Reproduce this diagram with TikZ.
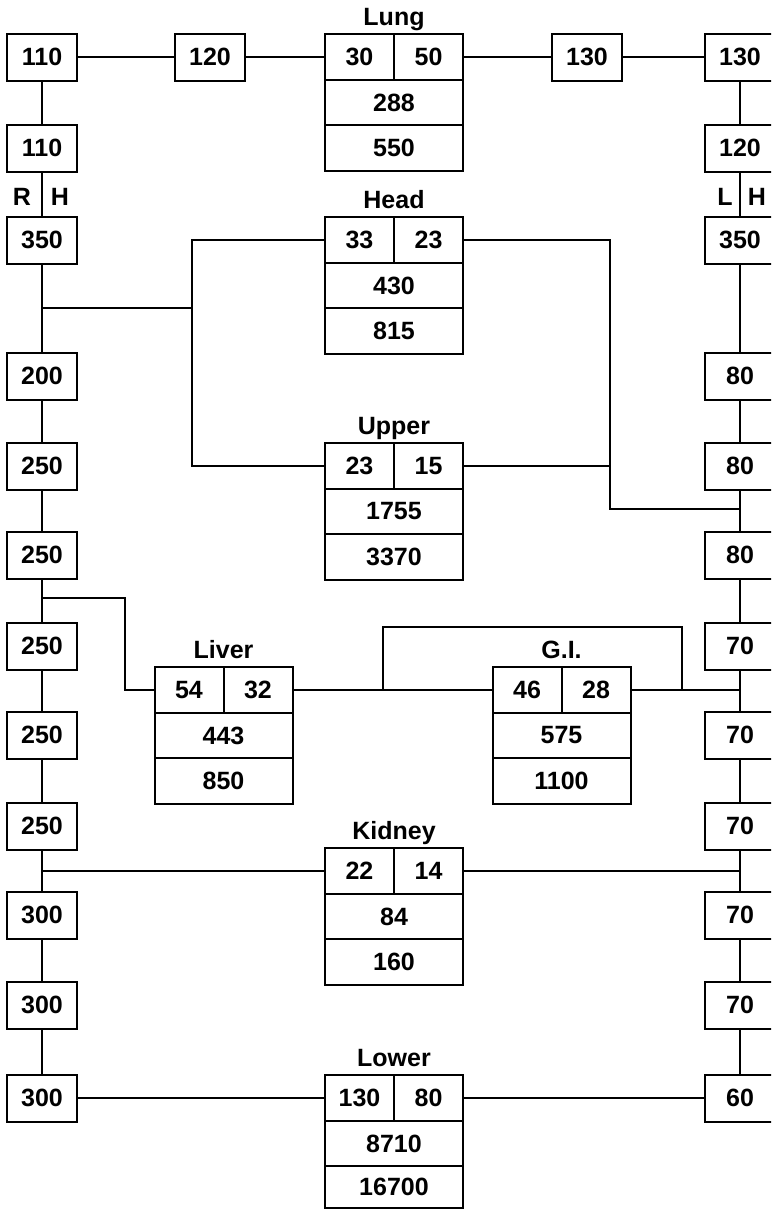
\documentclass[tikz,border=0pt]{standalone}
\usepackage{fontspec}
\setmainfont{Liberation Sans}
\begin{document}
\begin{tikzpicture}[x=1pt,y=-1pt,
  every node/.style={font=\fontsize{25}{29}\selectfont\bfseries},
  sbox/.style={draw,line width=2pt,minimum width=70pt,minimum height=47pt,inner sep=0pt},
  cell/.style={draw,line width=2pt,minimum height=45.5pt,inner sep=0pt},
  lab/.style={inner sep=0pt},
  wire/.style={line width=2pt}]
\useasboundingbox (0,0) rectangle (771,1210);
\clip (0,0) rectangle (771,1210);
\newcommand\organ[9]{%
  \node[cell,minimum width=69pt] (#1-l) at (#3-34.5,#4) {#5};
  \node[cell,minimum width=69pt] (#1-r) at (#3+34.5,#4) {#6};
  \node[cell,minimum width=138pt] (#1-m) at (#3,#4+45.5) {#7};
  \node[cell,minimum width=138pt,minimum height=#9pt] (#1-b) at (#3,#4+45.5+22.75+#9/2) {#8};
  \node[lab,anchor=base] (#1-t) at (#3,#4-31.5) {#2};}
% left column
\node[sbox] (L1) at (42,57) {110};
\node[sbox] (L2) at (42,148) {110};
\node[sbox] (L3) at (42,240) {350};
\node[sbox] (L4) at (42,376) {200};
\node[sbox] (L5) at (42,466) {250};
\node[sbox] (L6) at (42,555) {250};
\node[sbox] (L7) at (42,646) {250};
\node[sbox] (L8) at (42,735) {250};
\node[sbox] (L9) at (42,826) {250};
\node[sbox] (L10) at (42,915) {300};
\node[sbox] (L11) at (42,1005) {300};
\node[sbox] (L12) at (42,1098) {300};
% right column
\node[sbox] (R1) at (740,57) {130};
\node[sbox] (R2) at (740,148) {120};
\node[sbox] (R3) at (740,240) {350};
\node[sbox] (R4) at (740,376) {80};
\node[sbox] (R5) at (740,466) {80};
\node[sbox] (R6) at (740,555) {80};
\node[sbox] (R7) at (740,646) {70};
\node[sbox] (R8) at (740,735) {70};
\node[sbox] (R9) at (740,826) {70};
\node[sbox] (R10) at (740,915) {70};
\node[sbox] (R11) at (740,1005) {70};
\node[sbox] (R12) at (740,1098) {60};
% top row
\node[sbox] (T2) at (210,57) {120};
\node[sbox] (T4) at (587,57) {130};
% organs (argument 4 = centre y of the top row, 9 = height of last row)
\organ{lung}{Lung}{394}{57}{30}{50}{288}{550}{45.5}
\organ{head}{Head}{394}{240}{33}{23}{430}{815}{45.5}
\organ{upper}{Upper}{394}{466}{23}{15}{1755}{3370}{45.5}
\organ{liver}{Liver}{223.5}{690}{54}{32}{443}{850}{45.5}
\organ{gi}{G.I.}{561.5}{690}{46}{28}{575}{1100}{45.5}
\organ{kid}{Kidney}{394}{871}{22}{14}{84}{160}{45.5}
\organ{low}{Lower}{394}{1098}{130}{80}{8710}{16700}{42}
% R H / L H labels
\node[lab] (rR) at (22,197) {R};
\node[lab] (rH) at (60,197) {H};
\node[lab] (lL) at (725,197) {L};
\node[lab] (lH) at (757,197) {H};
% junction coordinates
\coordinate (jL1) at (42,308);
\coordinate (jA) at (192,308);
\coordinate (jA1) at (192,240);
\coordinate (jA2) at (192,466);
\coordinate (jB1) at (610,240);
\coordinate (jB2) at (610,509);
\coordinate (jB3) at (610,466);
\coordinate (jR1) at (740,509);
\coordinate (jL2) at (42,598);
\coordinate (jC1) at (125,598);
\coordinate (jC2) at (125,690);
\coordinate (jD1) at (383,690);
\coordinate (jD2) at (383,627);
\coordinate (jD3) at (682,627);
\coordinate (jD4) at (682,690);
\coordinate (jR2) at (740,690);
\coordinate (jL3) at (42,871);
\coordinate (jR3) at (740,871);
% column wires
\foreach \a/\b in {L1/L2,L2/L3,L3/L4,L4/L5,L5/L6,L6/L7,L7/L8,L8/L9,L9/L10,L10/L11,L11/L12,
                   R1/R2,R2/R3,R3/R4,R4/R5,R5/R6,R6/R7,R7/R8,R8/R9,R9/R10,R10/R11,R11/R12}
  \draw[wire] (\a) -- (\b);
% top row
\draw[wire] (L1) -- (T2);
\draw[wire] (T2) -- (lung-l.west);
\draw[wire] (lung-r.east) -- (T4);
\draw[wire] (T4) -- (R1);
% head / upper
\draw[wire] (head-l.west) -- (jA1) -- (jA2) -- (upper-l.west);
\draw[wire] (jL1) -- (jA);
\draw[wire] (head-r.east) -- (jB1) -- (jB2) -- (jR1);
\draw[wire] (upper-r.east) -- (jB3);
% liver / GI
\draw[wire] (jL2) -- (jC1) -- (jC2) -- (liver-l.west);
\draw[wire] (liver-r.east) -- (gi-l.west);
\draw[wire] (jD1) -- (jD2) -- (jD3) -- (jD4);
\draw[wire] (gi-r.east) -- (jR2);
% kidney
\draw[wire] (jL3) -- (kid-l.west);
\draw[wire] (kid-r.east) -- (jR3);
% lower
\draw[wire] (L12) -- (low-l.west);
\draw[wire] (low-r.east) -- (R12);
\end{tikzpicture}
\end{document}
